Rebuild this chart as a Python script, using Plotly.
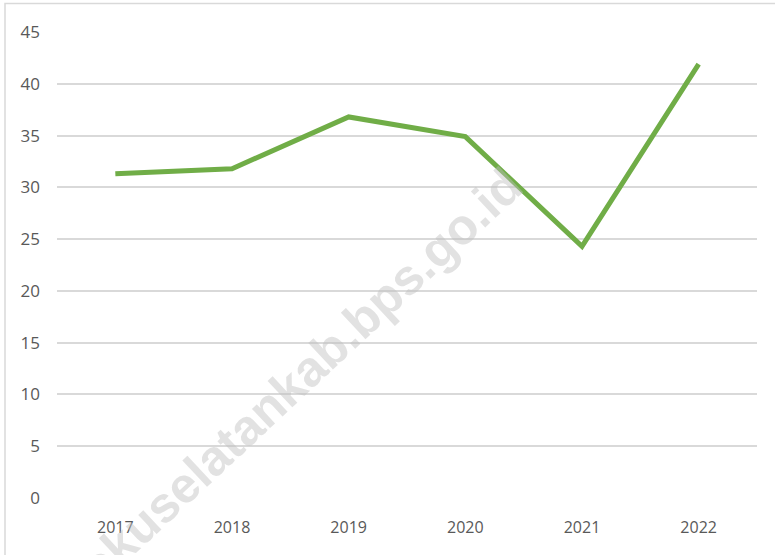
import plotly.graph_objects as go

years = ["2017", "2018", "2019", "2020", "2021", "2022"]
values = [31.3, 31.8, 36.8, 34.9, 24.3, 41.9]
y_ticks = [0, 5, 10, 15, 20, 25, 30, 35, 40, 45]

W, H = 775, 555
L, R, T, B = 57, 18, 32, 57

fig = go.Figure()
fig.add_trace(go.Scatter(
    x=years, y=values, mode="lines",
    line=dict(color="#70AD47", width=5),
    hoverinfo="skip", showlegend=False,
))

pw, ph = W - L - R, H - T - B
def px(xp):
    return (xp - L) / pw
def py(yp):
    return (H - B - yp) / ph

# watermark
fig.add_annotation(
    text="<b>okuselatankab.bps.go.id</b>", xref="paper", yref="paper",
    x=px(300), y=py(377), showarrow=False, textangle=-43,
    font=dict(family="Liberation Sans", size=50, color="rgba(190,190,190,0.45)"),
    xanchor="center", yanchor="middle",
)

# outer border
fig.add_shape(type="rect", xref="paper", yref="paper",
              x0=px(5), x1=px(790), y0=py(570), y1=py(3.5),
              line=dict(color="#D9D9D9", width=1.5), fillcolor="rgba(0,0,0,0)", layer="below")

fig.update_layout(
    width=W, height=H,
    margin=dict(l=L, r=R, t=T, b=B),
    paper_bgcolor="white", plot_bgcolor="white",
    font=dict(family="Open Sans", color="#595959"),
    xaxis=dict(type="category", range=[-0.5, 5.5], showgrid=False, zeroline=False, showline=False,
               tickfont=dict(size=16, color="#595959"), ticks="", ticklabelstandoff=18),
    yaxis=dict(range=[0, 45], tickvals=y_ticks, showgrid=True, gridcolor="#D9D9D9",
               gridwidth=1.5, zeroline=False, showline=False,
               tickfont=dict(size=17, color="#595959"), ticks="", ticklabelstandoff=16),
)

fig.write_html("out.html", config={"displayModeBar": False},
               post_script="document.body.style.margin='0px';document.body.style.padding='0px';")
